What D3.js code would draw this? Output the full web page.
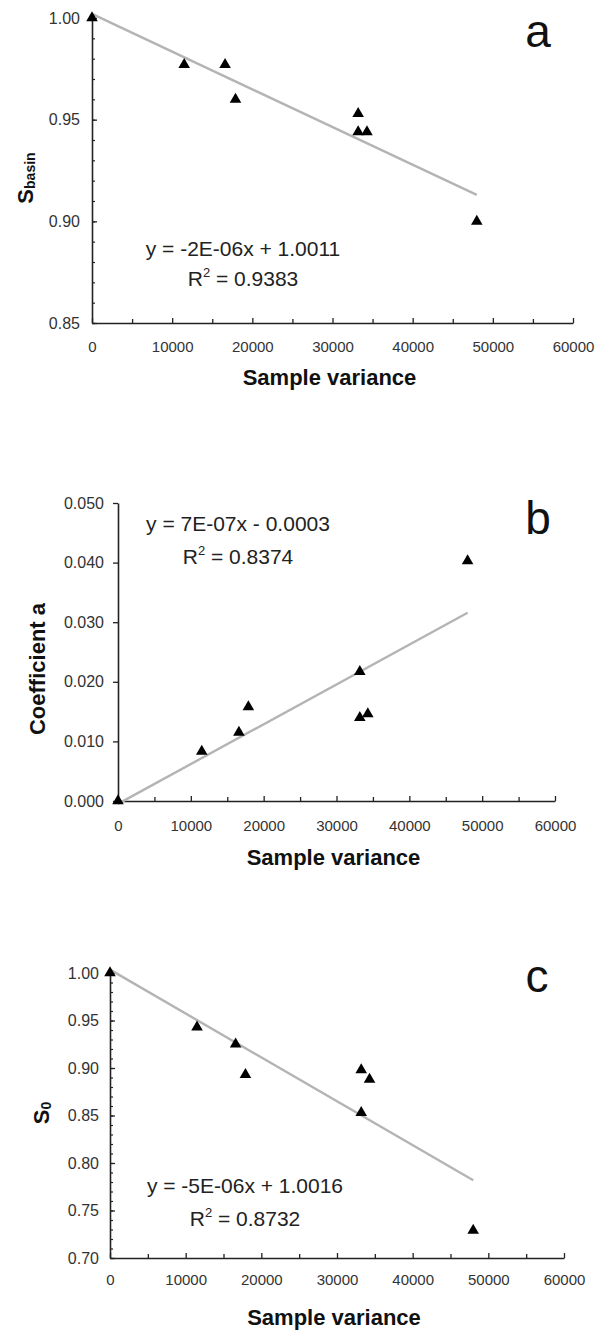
<!DOCTYPE html>
<html>
<head>
<meta charset="utf-8">
<script src="https://cdn.jsdelivr.net/npm/d3@7"></script>
<style>
  body { margin: 0; background: #fff; }
  text { font-family: "Liberation Sans", Arial, sans-serif; }
</style>
</head>
<body>
<div class="chart"></div>
<script>
// values
let sampleVariance = [0, 11500, 16600, 17900, 33200, 33200, 34300, 48000]
let sBasin = [1.000, 0.977, 0.977, 0.960, 0.953, 0.944, 0.944, 0.900]
let coefA = [0.0000, 0.0083, 0.0115, 0.0158, 0.0217, 0.0140, 0.0146, 0.0403]
let s0 = [1.000, 0.943, 0.925, 0.893, 0.898, 0.853, 0.888, 0.729]

let xTicks = [0, 10000, 20000, 30000, 40000, 50000, 60000]
let yTicksA = [0.85, 0.90, 0.95, 1.00]
let yTicksB = [0.000, 0.010, 0.020, 0.030, 0.040, 0.050]
let yTicksC = [0.70, 0.75, 0.80, 0.85, 0.90, 0.95, 1.00]

let eqLines = ["y = -2E-06x + 1.0011", "y = 7E-07x - 0.0003", "y = -5E-06x + 1.0016"]
let rSquared = ["0.9383", "0.8374", "0.8732"]
let letters = ["a", "b", "c"]

let svg = d3.select(".chart")
  .append("svg")
  .attr("width", 597)
  .attr("height", 1331)

svg.append("rect").attr("width", 597).attr("height", 1331).attr("fill", "#fff")

// least squares trend line, like the spreadsheet one
let fit = (xs, ys) => {
  let mx = d3.mean(xs), my = d3.mean(ys)
  let sxy = d3.sum(xs, (x, i) => (x - mx) * (ys[i] - my))
  let sxx = d3.sum(xs, x => (x - mx) * (x - mx))
  let m = sxy / sxx
  return { m: m, b: my - m * mx }
}

let panels = [
  { ys: sBasin, yTicks: yTicksA, yDom: [0.85, 1.0], fmt: ".2f", minorY: 0.01,
    left: 92, right: 573, top: 18, bottom: 323, yTickIn: true, yPad: 12, xPad: 18,
    title: ["S", "basin"], titleX: 33, titleY: 178,
    eqX: 243, eqY: 256, rY: 286, letterX: 538, letterY: 47, xTitleY: 385 },
  { ys: coefA, yTicks: yTicksB, yDom: [0, 0.05], fmt: ".3f", minorY: null,
    left: 118, right: 555, top: 503, bottom: 801, yTickIn: false, yPad: 9, xPad: 19,
    title: ["Coefficient a", ""], titleX: 45, titleY: 669,
    eqX: 238, eqY: 531, rY: 564, letterX: 538, letterY: 534, xTitleY: 865 },
  { ys: s0, yTicks: yTicksC, yDom: [0.70, 1.0], fmt: ".2f", minorY: 0.01,
    left: 110, right: 564, top: 973, bottom: 1258, yTickIn: true, yPad: 11, xPad: 16,
    title: ["S", "0"], titleX: 49, titleY: 1113,
    eqX: 245, eqY: 1193, rY: 1226, letterX: 537, letterY: 992, xTitleY: 1325 }
]

panels.forEach((p, k) => {
  let x = d3.scaleLinear().domain([0, 60000]).range([p.left, p.right])
  let y = d3.scaleLinear().domain(p.yDom).range([p.bottom, p.top])
  let g = svg.append("g")

  // minor x ticks every 5000
  g.append("g")
    .attr("transform", `translate(0,${p.bottom})`)
    .call(d3.axisBottom(x).tickValues(d3.range(5000, 60000, 10000)).tickSize(-4).tickFormat(""))
    .call(a => a.select(".domain").remove())
    .selectAll("line").attr("stroke", "#222").attr("stroke-width", 1.3)

  let xAxis = g.append("g")
    .attr("transform", `translate(0,${p.bottom})`)
    .call(d3.axisBottom(x).tickValues(xTicks).tickSize(-5).tickSizeOuter(0)
      .tickPadding(p.xPad).tickFormat(d3.format("d")))
  xAxis.select(".domain").attr("stroke", "#222").attr("stroke-width", 1.6)
  xAxis.selectAll("line").attr("stroke", "#222").attr("stroke-width", 1.3)
  xAxis.selectAll("text").attr("font-size", 15).attr("fill", "#333")

  if (p.minorY) {
    let minor = d3.range(p.yDom[0], p.yDom[1] + 1e-9, p.minorY)
    g.append("g")
      .attr("transform", `translate(${p.left},0)`)
      .call(d3.axisLeft(y).tickValues(minor).tickSize(-3).tickFormat(""))
      .call(a => a.select(".domain").remove())
      .selectAll("line").attr("stroke", "#222").attr("stroke-width", 1.2)
  }

  let yAxis = g.append("g")
    .attr("transform", `translate(${p.left},0)`)
    .call(d3.axisLeft(y).tickValues(p.yTicks).tickSize(p.yTickIn ? -5 : 5).tickSizeOuter(0)
      .tickPadding(p.yPad).tickFormat(d3.format(p.fmt)))
  yAxis.select(".domain").attr("stroke", "#222").attr("stroke-width", 1.6)
  yAxis.selectAll("line").attr("stroke", "#222").attr("stroke-width", 1.3)
  yAxis.selectAll("text").attr("font-size", 16).attr("fill", "#333")

  // trend line
  let t = fit(sampleVariance, p.ys)
  let ends = d3.extent(sampleVariance)
  g.append("path")
    .datum(ends)
    .attr("fill", "none")
    .attr("stroke", "#b4b4b4")
    .attr("stroke-width", 2.4)
    .attr("d", d3.line().x(d => x(d)).y(d => y(t.m * d + t.b)))

  // points
  g.selectAll("path.pt")
    .data(sampleVariance.map((v, i) => [v, p.ys[i]]))
    .enter()
    .append("path")
    .attr("class", "pt")
    .attr("d", d3.symbol().type(d3.symbolTriangle).size(58))
    .attr("transform", d => `translate(${x(d[0])},${y(d[1])})`)
    .attr("fill", "#000")

  // equation
  g.append("text")
    .attr("x", p.eqX).attr("y", p.eqY)
    .attr("text-anchor", "middle").attr("font-size", 21).attr("fill", "#222")
    .text(eqLines[k])
  let r = g.append("text")
    .attr("x", p.eqX).attr("y", p.rY)
    .attr("text-anchor", "middle").attr("font-size", 21).attr("fill", "#222")
  r.append("tspan").text("R")
  r.append("tspan").attr("font-size", 13).attr("dy", -9).text("2")
  r.append("tspan").attr("dy", 9).text(" = " + rSquared[k])

  // panel letter
  g.append("text")
    .attr("x", p.letterX).attr("y", p.letterY)
    .attr("text-anchor", "middle").attr("font-size", 46).attr("fill", "#111")
    .text(letters[k])

  // axis titles
  g.append("text")
    .attr("x", (p.left + p.right) / 2 - 3).attr("y", p.xTitleY)
    .attr("text-anchor", "middle").attr("font-size", 22).attr("font-weight", "bold").attr("fill", "#111")
    .text("Sample variance")

  let yt = g.append("text")
    .attr("transform", `translate(${p.titleX},${p.titleY}) rotate(-90)`)
    .attr("text-anchor", "middle").attr("font-size", 22).attr("font-weight", "bold").attr("fill", "#111")
  yt.append("tspan").text(p.title[0])
  if (p.title[1]) yt.append("tspan").attr("font-size", 14).attr("dy", 2).text(p.title[1])
})
</script>
</body>
</html>
